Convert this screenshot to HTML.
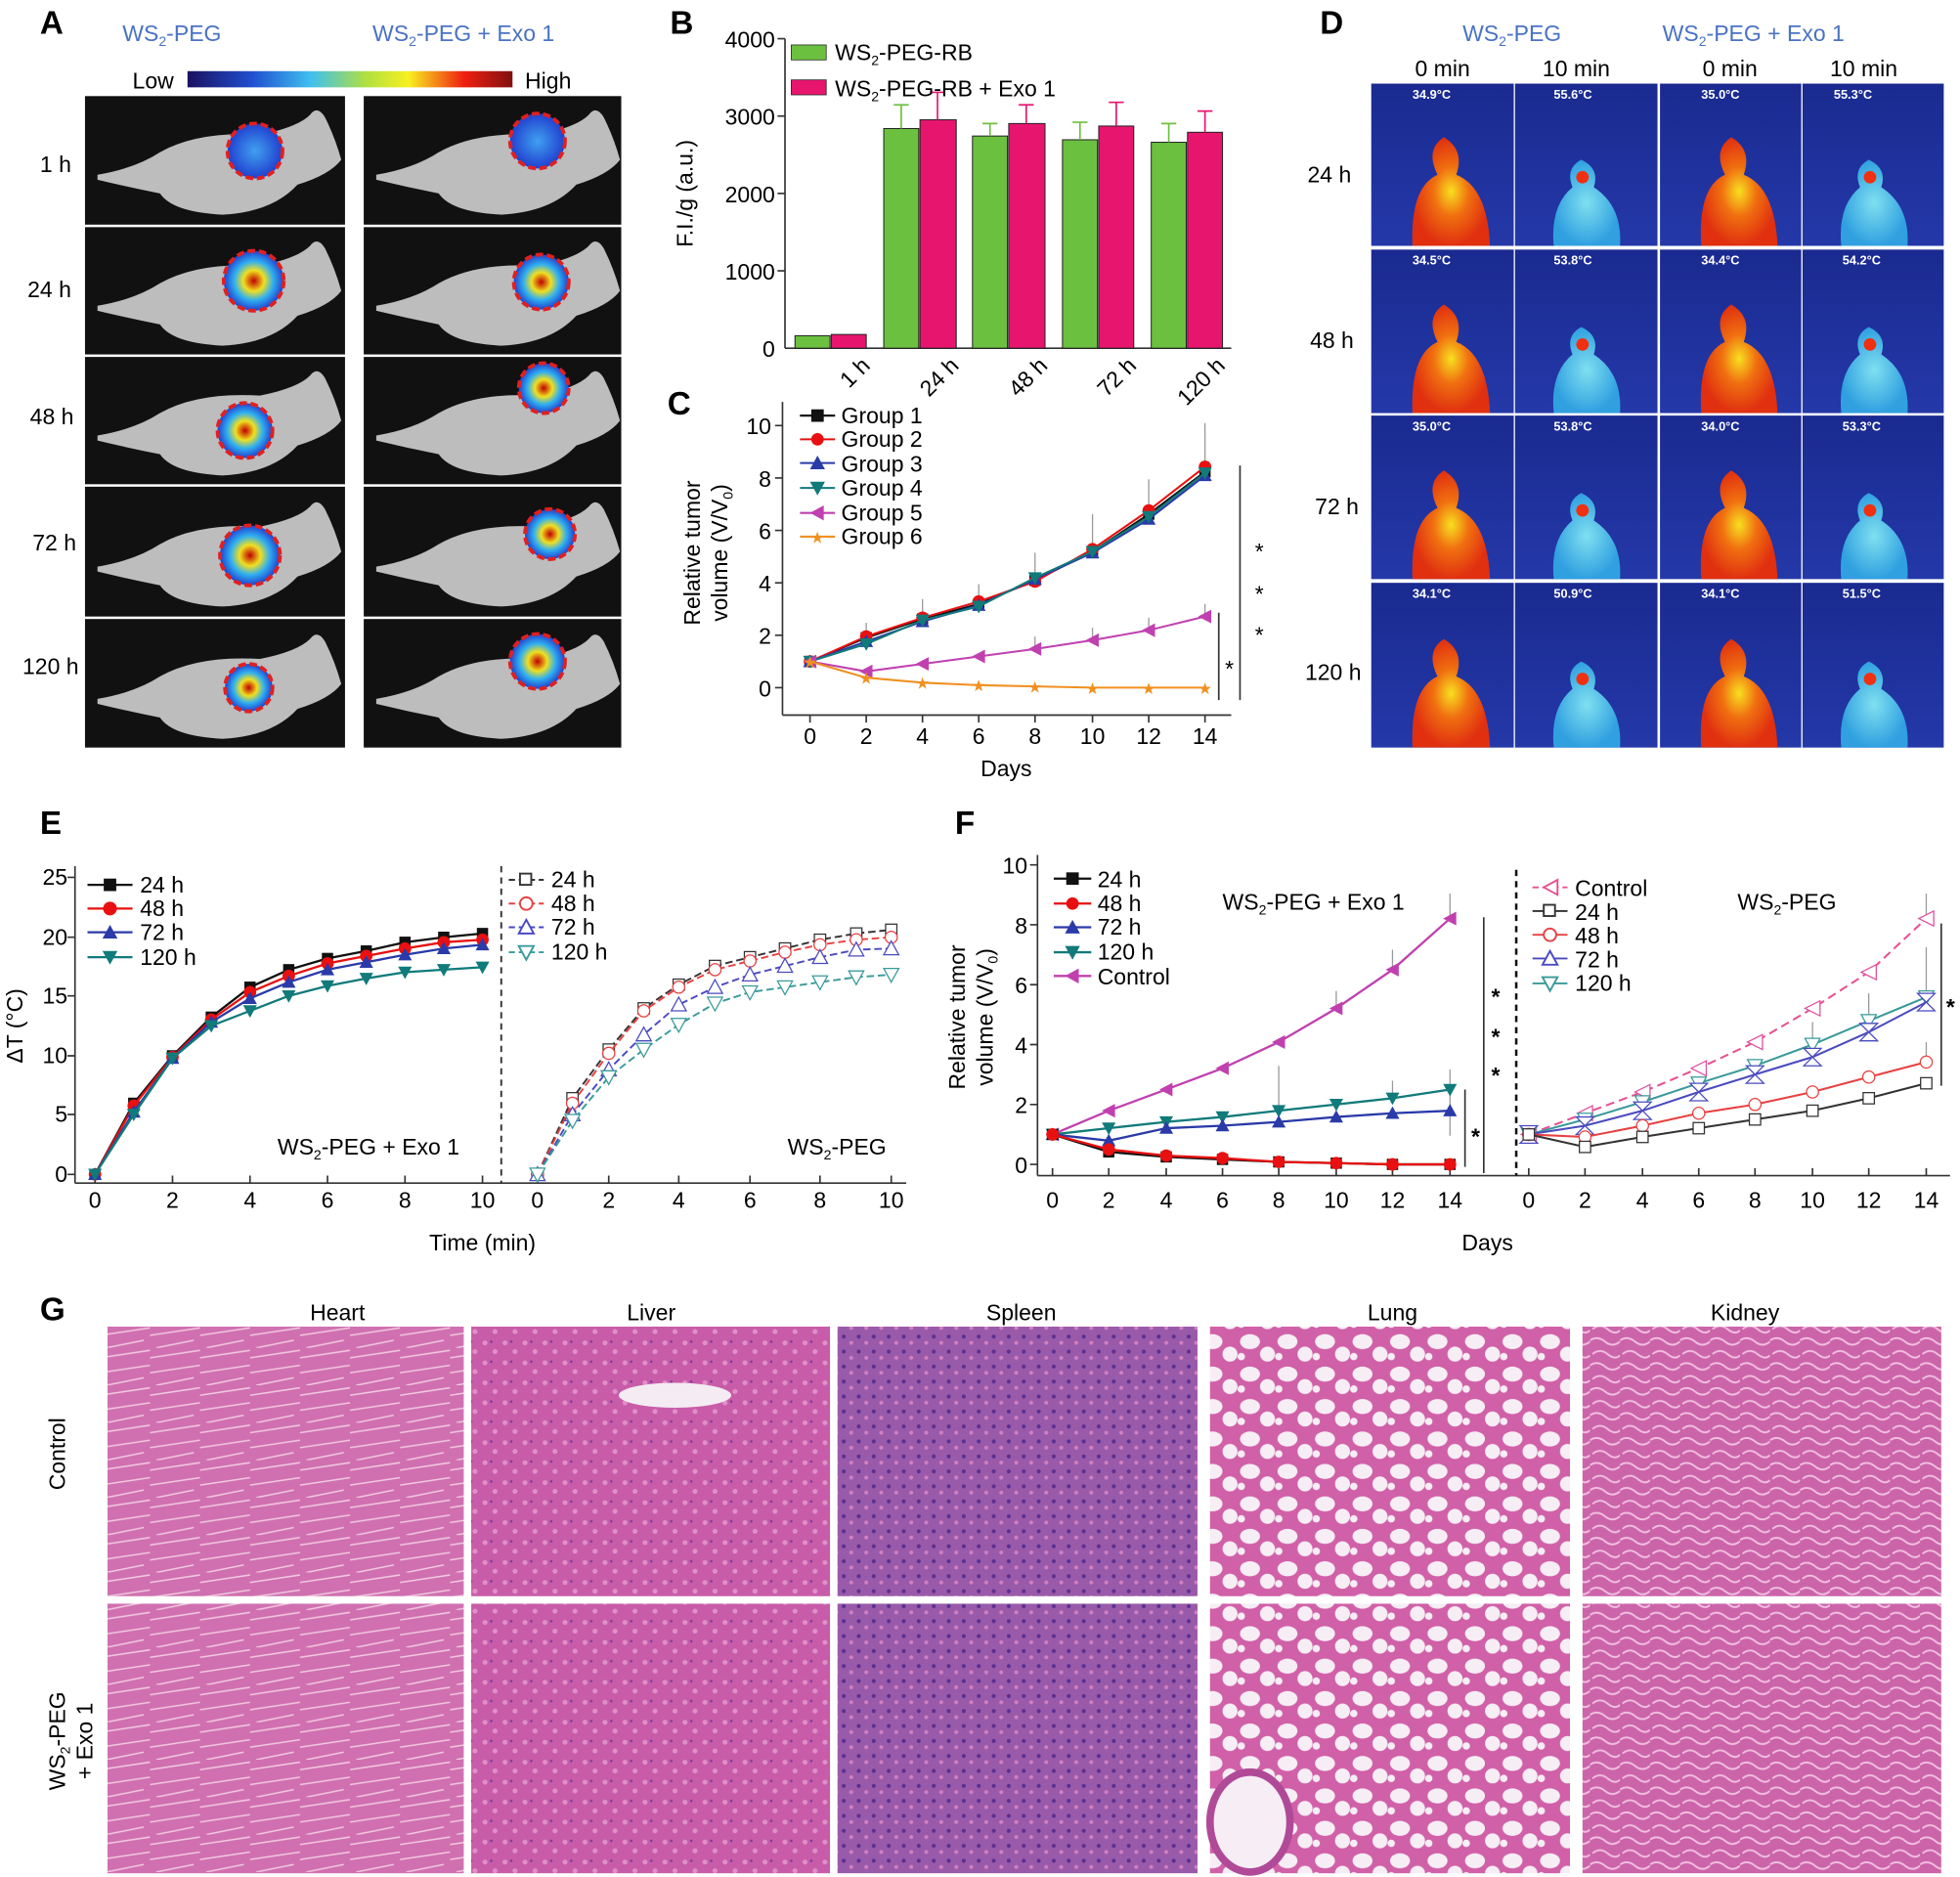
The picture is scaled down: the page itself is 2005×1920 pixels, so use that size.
<!DOCTYPE html>
<html><head><meta charset="utf-8">
<style>
html,body{margin:0;padding:0;background:#fff;}
svg{display:block;font-family:"Liberation Sans",Arial,sans-serif;}
</style></head>
<body>
<svg width="2005" height="1920" viewBox="0 0 1568 1504" preserveAspectRatio="none" xmlns="http://www.w3.org/2000/svg">
<defs>
<linearGradient id="cbar" x1="0" x2="1">
<stop offset="0" stop-color="#1a1060"/><stop offset="0.2" stop-color="#2050d0"/><stop offset="0.38" stop-color="#40c0f0"/><stop offset="0.55" stop-color="#b0e040"/><stop offset="0.68" stop-color="#f8f020"/><stop offset="0.85" stop-color="#f02010"/><stop offset="1" stop-color="#801010"/>
</linearGradient>
<radialGradient id="hot"><stop offset="0" stop-color="#c00000"/><stop offset="0.35" stop-color="#f0e020"/><stop offset="0.65" stop-color="#30b0f0"/><stop offset="1" stop-color="#2040d0"/></radialGradient>
<radialGradient id="blue1"><stop offset="0" stop-color="#40a0f0"/><stop offset="1" stop-color="#2040d0"/></radialGradient>
<radialGradient id="warm"><stop offset="0" stop-color="#f8e020"/><stop offset="0.45" stop-color="#f07010"/><stop offset="1" stop-color="#e03010"/></radialGradient>
<radialGradient id="cool"><stop offset="0" stop-color="#80e0f0"/><stop offset="1" stop-color="#30a0e0"/></radialGradient>
<linearGradient id="thermbg" x1="0" y1="0" x2="0" y2="1"><stop offset="0" stop-color="#1a2a90"/><stop offset="1" stop-color="#2438a8"/></linearGradient>
<pattern id="heart" width="40" height="30" patternUnits="userSpaceOnUse"><rect width="40" height="30" fill="#d070b0"/><path d="M0 8 L40 2 M0 20 L40 14 M5 30 L35 24" stroke="#f0c8e0" stroke-width="1.2"/></pattern>
<pattern id="liver" width="16" height="16" patternUnits="userSpaceOnUse"><rect width="16" height="16" fill="#c85ca8"/><circle cx="4" cy="4" r="2" fill="#e090c8"/><circle cx="12" cy="11" r="2" fill="#e090c8"/><circle cx="9" cy="3" r="1" fill="#7a3a98"/></pattern>
<pattern id="spleen" width="12" height="12" patternUnits="userSpaceOnUse"><rect width="12" height="12" fill="#9a5aaa"/><circle cx="3" cy="3" r="1.6" fill="#5a3090"/><circle cx="9" cy="8" r="1.6" fill="#d080c0"/></pattern>
<pattern id="lung" width="30" height="26" patternUnits="userSpaceOnUse"><rect width="30" height="26" fill="#d060a8"/><ellipse cx="10" cy="9" rx="8" ry="6" fill="#f6eef4"/><ellipse cx="24" cy="19" rx="6" ry="6" fill="#f6eef4"/><ellipse cx="3" cy="21" rx="3" ry="3" fill="#f6eef4"/></pattern>
<pattern id="kidney" width="24" height="20" patternUnits="userSpaceOnUse"><rect width="24" height="20" fill="#cc64aa"/><path d="M2 5 Q8 0 14 5 T24 6 M0 14 Q6 10 12 15 T24 15" stroke="#f0c0e0" stroke-width="1.5" fill="none"/></pattern>
<marker id="mSq" markerUnits="userSpaceOnUse" markerWidth="12" markerHeight="12" refX="6" refY="6"><rect x="1.5" y="1.5" width="9" height="9" fill="#111"/></marker>
<marker id="mCi" markerUnits="userSpaceOnUse" markerWidth="12" markerHeight="12" refX="6" refY="6"><circle cx="6" cy="6" r="5" fill="#e81010"/></marker>
<marker id="mTr" markerUnits="userSpaceOnUse" markerWidth="12" markerHeight="12" refX="6" refY="6"><path d="M6 0.5 L11.5 10.5 L0.5 10.5Z" fill="#2a3aa8"/></marker>
<marker id="mTd" markerUnits="userSpaceOnUse" markerWidth="12" markerHeight="12" refX="6" refY="6"><path d="M0.5 1.5 L11.5 1.5 L6 11.5Z" fill="#117a7a"/></marker>
<marker id="mTl" markerUnits="userSpaceOnUse" markerWidth="12" markerHeight="12" refX="6" refY="6"><path d="M11 0.5 L11 11.5 L0.5 6Z" fill="#c040b0"/></marker>
<marker id="mSt" markerUnits="userSpaceOnUse" markerWidth="12" markerHeight="12" refX="6" refY="6"><text x="6" y="11" font-size="13" text-anchor="middle" fill="#f09020">★</text></marker>
<marker id="oSq" markerUnits="userSpaceOnUse" markerWidth="12" markerHeight="12" refX="6" refY="6"><rect x="1.5" y="1.5" width="9" height="9" fill="#fff" stroke="#333" stroke-width="1"/></marker>
<marker id="oCi" markerUnits="userSpaceOnUse" markerWidth="12" markerHeight="12" refX="6" refY="6"><circle cx="6" cy="6" r="4.8" fill="#fff" stroke="#e84040" stroke-width="1"/></marker>
<marker id="oTr" markerUnits="userSpaceOnUse" markerWidth="14" markerHeight="14" refX="7" refY="7"><path d="M7 1 L13 12 L1 12Z" fill="#fff" stroke="#4a4ac0" stroke-width="1"/></marker>
<marker id="oTd" markerUnits="userSpaceOnUse" markerWidth="14" markerHeight="14" refX="7" refY="7"><path d="M1 2 L13 2 L7 13Z" fill="#fff" stroke="#3a9a9a" stroke-width="1"/></marker>
<marker id="oTl" markerUnits="userSpaceOnUse" markerWidth="14" markerHeight="14" refX="7" refY="7"><path d="M13 1 L13 13 L1 7Z" fill="#fff" stroke="#e050a0" stroke-width="1"/></marker>
<marker id="oHg" markerUnits="userSpaceOnUse" markerWidth="16" markerHeight="16" refX="8" refY="8"><path d="M1 1 L15 1 L8 8 L15 15 L1 15 L8 8Z" fill="#fff" stroke="#4a4ac0" stroke-width="1"/></marker>
<g id="mouse"><path d="M10 60 Q40 55 60 42 Q90 25 140 28 Q170 22 180 12 Q186 4 192 14 Q200 30 205 48 Q196 60 170 68 Q150 90 110 92 Q70 90 60 75 Q35 70 10 64Z" fill="#bdbdbd"/></g>
</defs>
<rect width="1568" height="1504" fill="#fff"/>

<!-- Panel A -->
<text x="32" y="27" font-size="26" font-weight="bold">A</text>
<text x="98" y="33" font-size="18" fill="#4a72c4">WS<tspan font-size="11" dy="4">2</tspan><tspan dy="-4">-PEG</tspan></text>
<text x="298" y="33" font-size="18" fill="#4a72c4">WS<tspan font-size="11" dy="4">2</tspan><tspan dy="-4">-PEG + Exo 1</tspan></text>
<text x="106" y="71" font-size="18">Low</text>
<rect x="150" y="57" width="260" height="13" fill="url(#cbar)"/>
<text x="420" y="71" font-size="18">High</text>
<g font-size="18">
<text x="32" y="138">1 h</text><text x="22" y="238">24 h</text><text x="24" y="340">48 h</text><text x="26" y="441">72 h</text><text x="18" y="540">120 h</text>
</g>
<g>
<rect x="68" y="77" width="208" height="103" fill="#111"/><rect x="291" y="77" width="206" height="103" fill="#111"/>
<rect x="68" y="182" width="208" height="102" fill="#111"/><rect x="291" y="182" width="206" height="102" fill="#111"/>
<rect x="68" y="286" width="208" height="102" fill="#111"/><rect x="291" y="286" width="206" height="102" fill="#111"/>
<rect x="68" y="390" width="208" height="104" fill="#111"/><rect x="291" y="390" width="206" height="104" fill="#111"/>
<rect x="68" y="496" width="208" height="103" fill="#111"/><rect x="291" y="496" width="206" height="103" fill="#111"/>
<use href="#mouse" x="68" y="80"/><use href="#mouse" x="291" y="80"/>
<use href="#mouse" x="68" y="185"/><use href="#mouse" x="291" y="185"/>
<use href="#mouse" x="68" y="289"/><use href="#mouse" x="291" y="289"/>
<use href="#mouse" x="68" y="394"/><use href="#mouse" x="291" y="394"/>
<use href="#mouse" x="68" y="500"/><use href="#mouse" x="291" y="500"/>
</g>
<g stroke="#e02020" stroke-width="3" stroke-dasharray="6 3">
<circle cx="204" cy="121" r="22" fill="url(#blue1)"/><circle cx="430" cy="113" r="22" fill="url(#blue1)"/>
<circle cx="203" cy="225" r="24" fill="url(#hot)"/><circle cx="433" cy="226" r="22" fill="url(#hot)"/>
<circle cx="196" cy="345" r="22" fill="url(#hot)"/><circle cx="435" cy="311" r="20" fill="url(#hot)"/>
<circle cx="200" cy="445" r="24" fill="url(#hot)"/><circle cx="440" cy="428" r="20" fill="url(#hot)"/>
<circle cx="199" cy="551" r="19" fill="url(#hot)"/><circle cx="430" cy="530" r="22" fill="url(#hot)"/>
</g>

<!-- Panel B -->
<text x="536" y="27" font-size="26" font-weight="bold">B</text>
<g font-size="18" text-anchor="end">
<text x="620" y="38">4000</text><text x="620" y="100">3000</text><text x="620" y="162">2000</text><text x="620" y="224">1000</text><text x="620" y="286">0</text>
</g>
<text transform="translate(554 155) rotate(-90)" font-size="18" text-anchor="middle">F.I./g (a.u.)</text>
<g stroke="#333" stroke-width="1.3">
<line x1="628" y1="31" x2="628" y2="279"/><line x1="628" y1="279" x2="985" y2="279"/>
<line x1="622" y1="31" x2="628" y2="31"/><line x1="622" y1="93" x2="628" y2="93"/><line x1="622" y1="155" x2="628" y2="155"/><line x1="622" y1="217" x2="628" y2="217"/>
</g>
<g stroke="#222" stroke-width="0.8">
<rect x="636" y="269" width="28" height="10" fill="#6cc040"/><rect x="665" y="268" width="28" height="11" fill="#e8156e"/>
<rect x="707" y="103" width="28" height="176" fill="#6cc040"/><rect x="736" y="96" width="29" height="183" fill="#e8156e"/>
<rect x="778" y="109" width="28" height="170" fill="#6cc040"/><rect x="807" y="99" width="29" height="180" fill="#e8156e"/>
<rect x="850" y="112" width="28" height="167" fill="#6cc040"/><rect x="879" y="101" width="28" height="178" fill="#e8156e"/>
<rect x="921" y="114" width="28" height="165" fill="#6cc040"/><rect x="950" y="106" width="28" height="173" fill="#e8156e"/>
</g>
<g stroke="#6cc040" stroke-width="1.3"><path d="M721 103V84M715 84h12M792 109V99M786 99h12M864 112V98M858 98h12M935 114V99M929 99h12"/></g>
<g stroke="#e8156e" stroke-width="1.3"><path d="M750 96V74M744 74h12M821 99V84M815 84h12M893 101V82M887 82h12M964 106V89M958 89h12"/></g>
<rect x="633" y="36" width="28" height="12" fill="#6cc040" stroke="#222" stroke-width="0.6"/>
<text x="668" y="48" font-size="18">WS<tspan font-size="11" dy="4">2</tspan><tspan dy="-4">-PEG-RB</tspan></text>
<rect x="633" y="64" width="28" height="12" fill="#e8156e" stroke="#222" stroke-width="0.6"/>
<text x="668" y="77" font-size="18">WS<tspan font-size="11" dy="4">2</tspan><tspan dy="-4">-PEG-RB + Exo 1</tspan></text>
<g font-size="18" text-anchor="end">
<text transform="translate(697 294) rotate(-45)">1 h</text>
<text transform="translate(768 294) rotate(-45)">24 h</text>
<text transform="translate(839 294) rotate(-45)">48 h</text>
<text transform="translate(910 294) rotate(-45)">72 h</text>
<text transform="translate(981 294) rotate(-45)">120 h</text>
</g>

<!-- Panel C -->
<text x="534" y="332" font-size="26" font-weight="bold">C</text>
<g stroke="#333" stroke-width="1.3">
<line x1="626" y1="322" x2="626" y2="573"/><line x1="626" y1="573" x2="985" y2="573"/>
<path d="M620 341h6M620 383h6M620 425h6M620 467h6M620 509h6M620 551h6"/>
<path d="M648 573v6M693 573v6M738 573v6M783 573v6M828 573v6M874 573v6M919 573v6M964 573v6"/>
</g>
<g font-size="18" text-anchor="end">
<text x="617" y="348">10</text><text x="617" y="390">8</text><text x="617" y="432">6</text><text x="617" y="474">4</text><text x="617" y="516">2</text><text x="617" y="558">0</text>
</g>
<g font-size="18" text-anchor="middle">
<text x="648" y="596">0</text><text x="693" y="596">2</text><text x="738" y="596">4</text><text x="783" y="596">6</text><text x="828" y="596">8</text><text x="874" y="596">10</text><text x="919" y="596">12</text><text x="964" y="596">14</text>
<text x="805" y="622">Days</text>
</g>
<text transform="translate(560 443) rotate(-90)" font-size="18" text-anchor="middle">Relative tumor</text>
<text transform="translate(582 443) rotate(-90)" font-size="18" text-anchor="middle">volume (V/V<tspan font-size="11" dy="4">0</tspan><tspan dy="-4">)</tspan></text>
<g stroke="#999" stroke-width="1"><path d="M828 465v-22M874 442v-30M919 412v-28M964 377v-38M783 484v-16M738 496v-16M693 511v-12M874 513v-10M919 505v-10M964 494v-10M828 520v-10"/></g>
<g fill="none" stroke-width="1.6">
<polyline points="648,530 693,511 738,496 783,484 828,465 874,442 919,412 964,378" stroke="#111" marker-start="url(#mSq)" marker-mid="url(#mSq)" marker-end="url(#mSq)"/>
<polyline points="648,530 693,510 738,495 783,482 828,466 874,440 919,409 964,374" stroke="#e81010" marker-start="url(#mCi)" marker-mid="url(#mCi)" marker-end="url(#mCi)"/>
<polyline points="648,530 693,514 738,498 783,485 828,464 874,443 919,416 964,381" stroke="#2a3aa8" marker-start="url(#mTr)" marker-mid="url(#mTr)" marker-end="url(#mTr)"/>
<polyline points="648,530 693,516 738,497 783,486 828,463 874,442 919,414 964,379" stroke="#117a7a" marker-start="url(#mTd)" marker-mid="url(#mTd)" marker-end="url(#mTd)"/>
<polyline points="648,530 693,538 738,532 783,526 828,520 874,513 919,505 964,494" stroke="#c040b0" marker-start="url(#mTl)" marker-mid="url(#mTl)" marker-end="url(#mTl)"/>
<polyline points="648,530 693,543 738,547 783,549 828,550 874,551 919,551 964,551" stroke="#f09020" marker-start="url(#mSt)" marker-mid="url(#mSt)" marker-end="url(#mSt)"/>
</g>
<g font-size="18" fill="none" stroke-width="1.6">
<line x1="640" y1="333" x2="668" y2="333" stroke="#111" marker-mid="url(#mSq)"/><use/>
</g>
<g stroke-width="1.6">
<line x1="640" y1="333" x2="668" y2="333" stroke="#111"/><rect x="649" y="328" width="10" height="10" fill="#111"/>
<line x1="640" y1="352" x2="668" y2="352" stroke="#e81010"/><circle cx="654" cy="352" r="5" fill="#e81010"/>
<line x1="640" y1="371" x2="668" y2="371" stroke="#2a3aa8"/><path d="M654 365 L660 376 L648 376Z" fill="#2a3aa8"/>
<line x1="640" y1="391" x2="668" y2="391" stroke="#117a7a"/><path d="M648 386 L660 386 L654 397Z" fill="#117a7a"/>
<line x1="640" y1="411" x2="668" y2="411" stroke="#c040b0"/><path d="M659 405 L659 417 L648 411Z" fill="#c040b0"/>
<line x1="640" y1="430" x2="668" y2="430" stroke="#f09020"/><text x="654" y="435" font-size="13" text-anchor="middle" fill="#f09020">★</text>
</g>
<g font-size="18"><text x="673" y="339">Group 1</text><text x="673" y="358">Group 2</text><text x="673" y="378">Group 3</text><text x="673" y="397">Group 4</text><text x="673" y="417">Group 5</text><text x="673" y="436">Group 6</text></g>
<g stroke="#333" stroke-width="1.3"><line x1="992" y1="373" x2="992" y2="561"/><line x1="975" y1="491" x2="975" y2="561"/></g>
<g font-size="18"><text x="1004" y="448">*</text><text x="1004" y="482">*</text><text x="1004" y="515">*</text><text x="980" y="542">*</text></g>

<!-- Panel D -->
<text x="1056" y="27" font-size="26" font-weight="bold">D</text>
<text x="1170" y="33" font-size="18" fill="#4a72c4">WS<tspan font-size="11" dy="4">2</tspan><tspan dy="-4">-PEG</tspan></text>
<text x="1330" y="33" font-size="18" fill="#4a72c4">WS<tspan font-size="11" dy="4">2</tspan><tspan dy="-4">-PEG + Exo 1</tspan></text>
<g font-size="18"><text x="1132" y="61">0 min</text><text x="1234" y="61">10 min</text><text x="1362" y="61">0 min</text><text x="1464" y="61">10 min</text></g>
<g font-size="18"><text x="1046" y="146">24 h</text><text x="1048" y="279">48 h</text><text x="1052" y="412">72 h</text><text x="1044" y="545">120 h</text></g>
<g fill="url(#thermbg)">
<rect x="1097" y="67" width="114" height="130"/><rect x="1212" y="67" width="114" height="130"/><rect x="1328" y="67" width="113" height="130"/><rect x="1442" y="67" width="113" height="130"/>
<rect x="1097" y="200" width="114" height="131"/><rect x="1212" y="200" width="114" height="131"/><rect x="1328" y="200" width="113" height="131"/><rect x="1442" y="200" width="113" height="131"/>
<rect x="1097" y="333" width="114" height="131"/><rect x="1212" y="333" width="114" height="131"/><rect x="1328" y="333" width="113" height="131"/><rect x="1442" y="333" width="113" height="131"/>
<rect x="1097" y="467" width="114" height="132"/><rect x="1212" y="467" width="114" height="132"/><rect x="1328" y="467" width="113" height="132"/><rect x="1442" y="467" width="113" height="132"/>
</g>
<g id="row1">
<path d="M1130 197 Q1128 150 1150 140 Q1140 120 1155 110 Q1172 120 1165 140 Q1190 150 1192 197Z" fill="url(#warm)"/>
<path d="M1243 197 Q1240 165 1258 150 Q1252 135 1265 128 Q1280 135 1275 150 Q1298 165 1296 197Z" fill="url(#cool)"/>
<circle cx="1266" cy="142" r="5" fill="#f03010"/>
<path d="M1361 197 Q1358 150 1380 140 Q1370 120 1385 110 Q1402 120 1395 140 Q1420 150 1422 197Z" fill="url(#warm)"/>
<path d="M1473 197 Q1470 165 1488 150 Q1482 135 1495 128 Q1510 135 1505 150 Q1528 165 1526 197Z" fill="url(#cool)"/>
<circle cx="1496" cy="142" r="5" fill="#f03010"/>
</g>
<use href="#row1" y="134"/><use href="#row1" y="267"/><use href="#row1" y="402"/>
<g font-size="10" fill="#fff" font-weight="bold">
<text x="1130" y="79">34.9°C</text><text x="1243" y="79">55.6°C</text><text x="1361" y="79">35.0°C</text><text x="1467" y="79">55.3°C</text>
<text x="1130" y="212">34.5°C</text><text x="1243" y="212">53.8°C</text><text x="1361" y="212">34.4°C</text><text x="1474" y="212">54.2°C</text>
<text x="1130" y="345">35.0°C</text><text x="1243" y="345">53.8°C</text><text x="1361" y="345">34.0°C</text><text x="1474" y="345">53.3°C</text>
<text x="1130" y="479">34.1°C</text><text x="1243" y="479">50.9°C</text><text x="1361" y="479">34.1°C</text><text x="1474" y="479">51.5°C</text>
</g>

<!-- Panel E -->
<text x="32" y="668" font-size="26" font-weight="bold">E</text>
<g stroke="#333" stroke-width="1.3">
<line x1="60" y1="694" x2="60" y2="948"/><line x1="60" y1="948" x2="725" y2="948"/>
<path d="M54 703h6M54 751h6M54 798h6M54 846h6M54 893h6M54 941h6"/>
<path d="M76 948v-6M138 948v-6M200 948v-6M262 948v-6M324 948v-6M386 948v-6M430 948v-6M487 948v-6M543 948v-6M600 948v-6M656 948v-6M713 948v-6"/>
</g>
<line x1="401" y1="694" x2="401" y2="948" stroke="#333" stroke-width="1.5" stroke-dasharray="5 4"/>
<g font-size="18" text-anchor="end"><text x="54" y="709">25</text><text x="54" y="757">20</text><text x="54" y="804">15</text><text x="54" y="852">10</text><text x="54" y="899">5</text><text x="54" y="947">0</text></g>
<g font-size="18" text-anchor="middle">
<text x="76" y="968">0</text><text x="138" y="968">2</text><text x="200" y="968">4</text><text x="262" y="968">6</text><text x="324" y="968">8</text><text x="386" y="968">10</text>
<text x="430" y="968">0</text><text x="487" y="968">2</text><text x="543" y="968">4</text><text x="600" y="968">6</text><text x="656" y="968">8</text><text x="713" y="968">10</text>
<text x="386" y="1002">Time (min)</text>
</g>
<text transform="translate(18 822) rotate(-90)" font-size="18" text-anchor="middle">ΔT (°C)</text>
<g fill="none" stroke-width="1.8">
<polyline points="76,941 107,884 138,846 169,815 200,791 231,777 262,768 293,762 324,755 355,751 386,748" stroke="#111" marker-start="url(#mSq)" marker-mid="url(#mSq)" marker-end="url(#mSq)"/>
<polyline points="76,941 107,886 138,847 169,817 200,795 231,782 262,772 293,766 324,760 355,755 386,753" stroke="#e81010" marker-start="url(#mCi)" marker-mid="url(#mCi)" marker-end="url(#mCi)"/>
<polyline points="76,941 107,891 138,848 169,819 200,800 231,787 262,777 293,771 324,765 355,760 386,757" stroke="#2a3aa8" marker-start="url(#mTr)" marker-mid="url(#mTr)" marker-end="url(#mTr)"/>
<polyline points="76,941 107,893 138,848 169,822 200,810 231,798 262,790 293,784 324,779 355,777 386,775" stroke="#117a7a" marker-start="url(#mTd)" marker-mid="url(#mTd)" marker-end="url(#mTd)"/>
</g>
<g fill="none" stroke-width="1.5" stroke-dasharray="6 3">
<polyline points="430,941 458,880 487,841 515,808 543,789 572,774 600,767 628,760 656,753 685,748 713,745" stroke="#333" marker-start="url(#oSq)" marker-mid="url(#oSq)" marker-end="url(#oSq)"/>
<polyline points="430,941 458,884 487,844 515,810 543,791 572,777 600,770 628,763 656,757 685,753 713,751" stroke="#e84040" marker-start="url(#oCi)" marker-mid="url(#oCi)" marker-end="url(#oCi)"/>
<polyline points="430,941 458,893 487,857 515,829 543,805 572,791 600,781 628,774 656,767 685,761 713,760" stroke="#4a4ac0" marker-start="url(#oTr)" marker-mid="url(#oTr)" marker-end="url(#oTr)"/>
<polyline points="430,941 458,898 487,863 515,841 543,821 572,804 600,795 628,791 656,787 685,783 713,781" stroke="#3a9a9a" marker-start="url(#oTd)" marker-mid="url(#oTd)" marker-end="url(#oTd)"/>
</g>
<g stroke-width="1.8">
<line x1="70" y1="709" x2="106" y2="709" stroke="#111"/><rect x="83" y="704" width="10" height="10" fill="#111"/>
<line x1="70" y1="728" x2="106" y2="728" stroke="#e81010"/><circle cx="88" cy="728" r="5.5" fill="#e81010"/>
<line x1="70" y1="747" x2="106" y2="747" stroke="#2a3aa8"/><path d="M88 741 L94 752 L82 752Z" fill="#2a3aa8"/>
<line x1="70" y1="767" x2="106" y2="767" stroke="#117a7a"/><path d="M82 762 L94 762 L88 773Z" fill="#117a7a"/>
</g>
<g font-size="18"><text x="112" y="715">24 h</text><text x="112" y="734">48 h</text><text x="112" y="753">72 h</text><text x="112" y="773">120 h</text></g>
<g stroke-width="1.5" stroke-dasharray="5 3" fill="#fff">
<line x1="407" y1="705" x2="435" y2="705" stroke="#333"/><rect x="416" y="700" width="9" height="9" stroke="#333" stroke-dasharray="none"/>
<line x1="407" y1="724" x2="435" y2="724" stroke="#e84040"/><circle cx="421" cy="724" r="5" stroke="#e84040" stroke-dasharray="none"/>
<line x1="407" y1="743" x2="435" y2="743" stroke="#4a4ac0"/><path d="M421 737 L427 748 L415 748Z" stroke="#4a4ac0" stroke-dasharray="none"/>
<line x1="407" y1="763" x2="435" y2="763" stroke="#3a9a9a"/><path d="M415 758 L427 758 L421 769Z" stroke="#3a9a9a" stroke-dasharray="none"/>
</g>
<g font-size="18"><text x="441" y="711">24 h</text><text x="441" y="730">48 h</text><text x="441" y="749">72 h</text><text x="441" y="769">120 h</text></g>
<text x="222" y="925" font-size="18">WS<tspan font-size="11" dy="4">2</tspan><tspan dy="-4">-PEG + Exo 1</tspan></text>
<text x="630" y="925" font-size="18">WS<tspan font-size="11" dy="4">2</tspan><tspan dy="-4">-PEG</tspan></text>

<!-- Panel F -->
<text x="764" y="668" font-size="26" font-weight="bold">F</text>
<g stroke="#333" stroke-width="1.3">
<line x1="830" y1="685" x2="830" y2="942"/><line x1="830" y1="942" x2="1560" y2="942"/>
<path d="M824 693h6M824 741h6M824 789h6M824 837h6M824 885h6M824 933h6"/>
<path d="M842 942v-6M887 942v-6M933 942v-6M978 942v-6M1023 942v-6M1069 942v-6M1114 942v-6M1160 942v-6M1223 942v-6M1268 942v-6M1314 942v-6M1359 942v-6M1404 942v-6M1450 942v-6M1495 942v-6M1541 942v-6"/>
</g>
<line x1="1213" y1="697" x2="1213" y2="942" stroke="#111" stroke-width="2" stroke-dasharray="5 4"/>
<g font-size="18" text-anchor="end"><text x="822" y="700">10</text><text x="822" y="748">8</text><text x="822" y="796">6</text><text x="822" y="844">4</text><text x="822" y="892">2</text><text x="822" y="940">0</text></g>
<g font-size="18" text-anchor="middle">
<text x="842" y="968">0</text><text x="887" y="968">2</text><text x="933" y="968">4</text><text x="978" y="968">6</text><text x="1023" y="968">8</text><text x="1069" y="968">10</text><text x="1114" y="968">12</text><text x="1160" y="968">14</text>
<text x="1223" y="968">0</text><text x="1268" y="968">2</text><text x="1314" y="968">4</text><text x="1359" y="968">6</text><text x="1404" y="968">8</text><text x="1450" y="968">10</text><text x="1495" y="968">12</text><text x="1541" y="968">14</text>
<text x="1190" y="1002">Days</text>
</g>
<text transform="translate(772 815) rotate(-90)" font-size="18" text-anchor="middle">Relative tumor</text>
<text transform="translate(794 815) rotate(-90)" font-size="18" text-anchor="middle">volume (V/V<tspan font-size="11" dy="4">0</tspan><tspan dy="-4">)</tspan></text>
<g stroke="#999" stroke-width="1"><path d="M1160 736v-20M1114 777v-16M1069 808v-14M1160 873v-16M1114 880v-14M1160 890v-30M1023 890v-36M1541 736v-20M1541 799v-40M1541 803v-30M1541 851v-16M1495 818v-22M1450 837v-18M1160 910v-25"/></g>
<g fill="none" stroke-width="1.8">
<polyline points="842,909 887,890 933,873 978,856 1023,835 1069,808 1114,777 1160,736" stroke="#c040b0" marker-start="url(#mTl)" marker-mid="url(#mTl)" marker-end="url(#mTl)"/>
<polyline points="842,909 887,904 933,899 978,895 1023,890 1069,885 1114,880 1160,873" stroke="#117a7a" marker-start="url(#mTd)" marker-mid="url(#mTd)" marker-end="url(#mTd)"/>
<polyline points="842,909 887,914 933,904 978,902 1023,899 1069,895 1114,892 1160,890" stroke="#2a3aa8" marker-start="url(#mTr)" marker-mid="url(#mTr)" marker-end="url(#mTr)"/>
<polyline points="842,909 887,923 933,927 978,929 1023,931 1069,932 1114,933 1160,933" stroke="#111" marker-start="url(#mSq)" marker-mid="url(#mSq)" marker-end="url(#mSq)"/>
<polyline points="842,909 887,921 933,926 978,928 1023,931 1069,932 1114,933 1160,933" stroke="#e81010" marker-start="url(#mCi)" marker-mid="url(#mCi)" marker-end="url(#mCi)"/>
</g>
<g fill="none" stroke-width="1.6">
<polyline points="1223,909 1268,892 1314,875 1359,856 1404,835 1450,808 1495,779 1541,736" stroke="#e85090" stroke-dasharray="7 4" marker-start="url(#oTl)" marker-mid="url(#oTl)" marker-end="url(#oTl)"/>
<polyline points="1223,909 1268,897 1314,883 1359,868 1404,854 1450,837 1495,818 1541,799" stroke="#3a9a9a" marker-start="url(#oTd)" marker-mid="url(#oTd)" marker-end="url(#oTd)"/>
<polyline points="1223,909 1268,902 1314,890 1359,875 1404,861 1450,847 1495,827 1541,803" stroke="#4a4ac0" marker-start="url(#oHg)" marker-mid="url(#oHg)" marker-end="url(#oHg)"/>
<polyline points="1223,909 1268,911 1314,902 1359,892 1404,885 1450,875 1495,863 1541,851" stroke="#e84040" marker-start="url(#oCi)" marker-mid="url(#oCi)" marker-end="url(#oCi)"/>
<polyline points="1223,909 1268,919 1314,911 1359,904 1404,897 1450,890 1495,880 1541,868" stroke="#333" marker-start="url(#oSq)" marker-mid="url(#oSq)" marker-end="url(#oSq)"/>
</g>
<g stroke-width="1.8">
<line x1="843" y1="704" x2="873" y2="704" stroke="#111"/><rect x="853" y="699" width="10" height="10" fill="#111"/>
<line x1="843" y1="724" x2="873" y2="724" stroke="#e81010"/><circle cx="858" cy="724" r="5" fill="#e81010"/>
<line x1="843" y1="743" x2="873" y2="743" stroke="#2a3aa8"/><path d="M858 737 L864 748 L852 748Z" fill="#2a3aa8"/>
<line x1="843" y1="763" x2="873" y2="763" stroke="#117a7a"/><path d="M852 758 L864 758 L858 769Z" fill="#117a7a"/>
<line x1="843" y1="782" x2="873" y2="782" stroke="#c040b0"/><path d="M863 776 L863 788 L852 782Z" fill="#c040b0"/>
</g>
<g font-size="18"><text x="878" y="711">24 h</text><text x="878" y="730">48 h</text><text x="878" y="749">72 h</text><text x="878" y="769">120 h</text><text x="878" y="789">Control</text></g>
<text x="978" y="729" font-size="18">WS<tspan font-size="11" dy="4">2</tspan><tspan dy="-4">-PEG + Exo 1</tspan></text>
<g stroke-width="1.5" fill="#fff">
<line x1="1226" y1="711" x2="1254" y2="711" stroke="#e85090" stroke-dasharray="5 3"/><path d="M1246 705 L1246 717 L1235 711Z" stroke="#e85090"/>
<line x1="1226" y1="730" x2="1254" y2="730" stroke="#333"/><rect x="1235" y="725" width="9" height="9" stroke="#333"/>
<line x1="1226" y1="749" x2="1254" y2="749" stroke="#e84040"/><circle cx="1240" cy="749" r="5" stroke="#e84040"/>
<line x1="1226" y1="768" x2="1254" y2="768" stroke="#4a4ac0"/><path d="M1240 762 L1246 773 L1234 773Z" stroke="#4a4ac0"/>
<line x1="1226" y1="788" x2="1254" y2="788" stroke="#3a9a9a"/><path d="M1234 783 L1246 783 L1240 794Z" stroke="#3a9a9a"/>
</g>
<g font-size="18"><text x="1260" y="718">Control</text><text x="1260" y="737">24 h</text><text x="1260" y="756">48 h</text><text x="1260" y="775">72 h</text><text x="1260" y="794">120 h</text></g>
<text x="1390" y="729" font-size="18">WS<tspan font-size="11" dy="4">2</tspan><tspan dy="-4">-PEG</tspan></text>
<g stroke="#333" stroke-width="1.3"><line x1="1187" y1="735" x2="1187" y2="940"/><line x1="1172" y1="873" x2="1172" y2="935"/><line x1="1553" y1="740" x2="1553" y2="870"/></g>
<g font-size="18" font-weight="bold"><text x="1193" y="805">*</text><text x="1193" y="837">*</text><text x="1193" y="868">*</text><text x="1177" y="917">*</text><text x="1557" y="813">*</text></g>

<!-- Panel G -->
<text x="32" y="1058" font-size="26" font-weight="bold">G</text>
<g font-size="18" text-anchor="middle"><text x="270" y="1058">Heart</text><text x="521" y="1058">Liver</text><text x="817" y="1058">Spleen</text><text x="1114" y="1058">Lung</text><text x="1396" y="1058">Kidney</text></g>
<text transform="translate(52 1165) rotate(-90)" font-size="18" text-anchor="middle">Control</text>
<text transform="translate(52 1395) rotate(-90)" font-size="18" text-anchor="middle">WS<tspan font-size="11" dy="4">2</tspan><tspan dy="-4">-PEG</tspan></text>
<text transform="translate(74 1395) rotate(-90)" font-size="18" text-anchor="middle">+ Exo 1</text>
<rect x="86" y="1063" width="285" height="216" fill="url(#heart)"/><rect x="86" y="1285" width="285" height="216" fill="url(#heart)"/>
<rect x="377" y="1063" width="287" height="216" fill="url(#liver)"/><rect x="377" y="1285" width="287" height="216" fill="url(#liver)"/>
<ellipse cx="540" cy="1118" rx="45" ry="10" fill="#f4ecf2"/>
<rect x="670" y="1063" width="288" height="216" fill="url(#spleen)"/><rect x="670" y="1285" width="288" height="216" fill="url(#spleen)"/>
<rect x="968" y="1063" width="288" height="216" fill="url(#lung)"/><rect x="968" y="1285" width="288" height="216" fill="url(#lung)"/>
<ellipse cx="1000" cy="1460" rx="32" ry="40" fill="#f6eef4" stroke="#b04a98" stroke-width="6"/>
<rect x="1266" y="1063" width="287" height="216" fill="url(#kidney)"/><rect x="1266" y="1285" width="287" height="216" fill="url(#kidney)"/>
</svg>
</body></html>
